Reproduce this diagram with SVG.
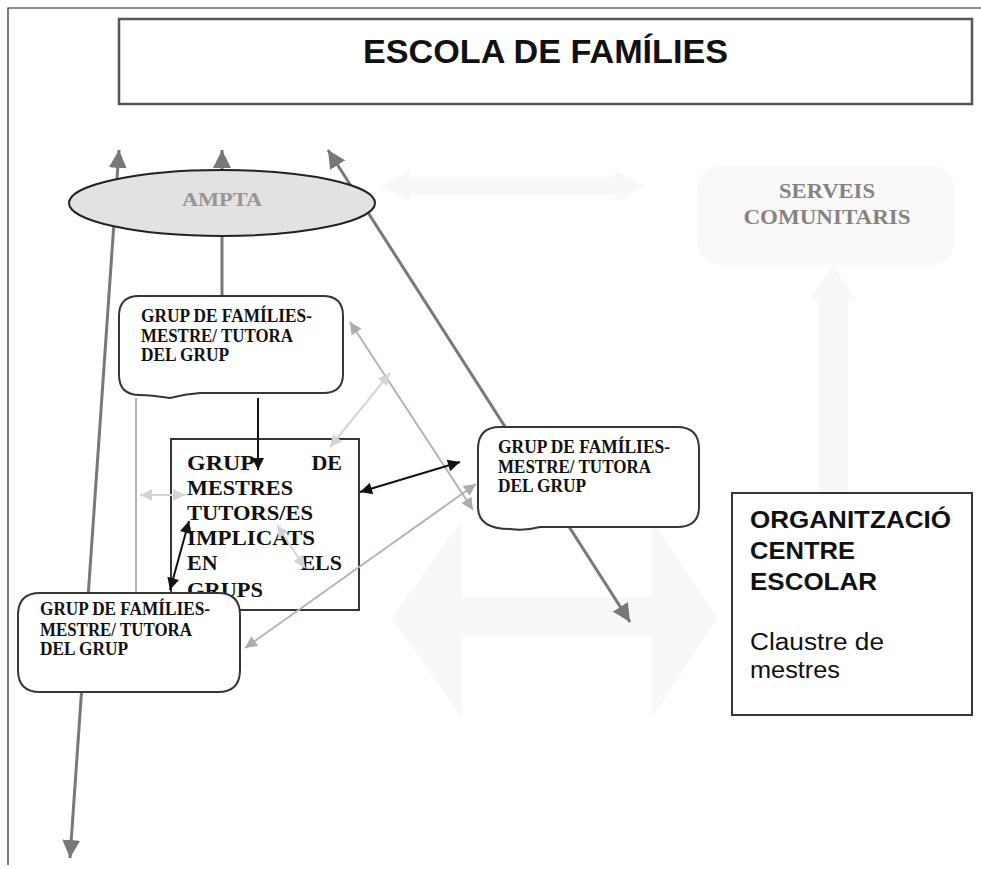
<svg xmlns="http://www.w3.org/2000/svg" width="981" height="869" viewBox="0 0 981 869">
<style>
.bg{fill:#f8f8f8;stroke:none}
.box{fill:#fff;stroke:#3a3535;stroke-width:2}
.ser{font-family:"Liberation Serif","Times New Roman",serif;font-weight:bold;fill:#111}
.sans{font-family:"Liberation Sans",Arial,sans-serif;fill:#111}
.thick{stroke:#7a7777;stroke-width:3;fill:none}
.blk{stroke:#111;stroke-width:2;fill:none}
.lg{stroke:#bab2b2;stroke-width:2;fill:none}
.vlg{stroke:#d6d6d6;stroke-width:2;fill:none}
</style>
<defs>
<marker id="mG" viewBox="0 0 10 10" refX="10" refY="5" markerUnits="userSpaceOnUse" markerWidth="18" markerHeight="18" orient="auto-start-reverse"><path d="M0,0 L10,5 L0,10 z" fill="#7a7777"/></marker>
<marker id="mB" viewBox="0 0 10 10" refX="10" refY="5" markerUnits="userSpaceOnUse" markerWidth="14" markerHeight="12" orient="auto-start-reverse"><path d="M0,0 L10,5 L0,10 z" fill="#111"/></marker>
<marker id="mL" viewBox="0 0 10 10" refX="10" refY="5" markerUnits="userSpaceOnUse" markerWidth="14" markerHeight="12" orient="auto-start-reverse"><path d="M0,0 L10,5 L0,10 z" fill="#b2aaaa"/></marker>
<marker id="mV" viewBox="0 0 10 10" refX="10" refY="5" markerUnits="userSpaceOnUse" markerWidth="14" markerHeight="12" orient="auto-start-reverse"><path d="M0,0 L10,5 L0,10 z" fill="#d4d4d4"/></marker>
</defs>
<rect width="981" height="869" fill="#fff"/>
<g id="background">
<polygon class="bg" points="380,186 410,170 410,177 615,177 615,170 645,186 615,202 615,195 410,195 410,202"/>
<polygon class="bg" points="833,265 856,300 848,300 848,492 818,492 818,300 810,300"/>
<polygon class="bg" points="392,618 462,520 462,597 652,597 652,520 717,618 652,718 652,636 462,636 462,718"/>
</g>
<g id="frame">
<path d="M8,865 V8 H981" fill="none" stroke="#222" stroke-width="1.2"/>
</g>
<g id="serveis">
<rect x="697" y="165" width="258" height="100" rx="25" fill="#f9f9f9"/>
<text class="ser" x="827" y="198" font-size="22" text-anchor="middle" textLength="96" lengthAdjust="spacingAndGlyphs" style="fill:#8a8282">SERVEIS</text>
<text class="ser" x="827" y="224" font-size="22" text-anchor="middle" textLength="167" lengthAdjust="spacingAndGlyphs" style="fill:#8a8282">COMUNITARIS</text>
</g>
<g id="title">
<rect x="119" y="19" width="853" height="85" fill="#fff" stroke="#5a5555" stroke-width="2.5"/>
<text class="sans" x="363" y="63" font-size="34" font-weight="bold" textLength="365" lengthAdjust="spacingAndGlyphs">ESCOLA DE FAMÍLIES</text>
</g>
<g id="mestres">
<rect class="box" x="171" y="439" width="188" height="171"/>
<g class="ser" font-size="22">
<text x="187" y="470" textLength="68" lengthAdjust="spacingAndGlyphs">GRUP</text>
<text x="342" y="470" text-anchor="end">DE</text>
<text x="187" y="495" textLength="106" lengthAdjust="spacingAndGlyphs">MESTRES</text>
<text x="187" y="520" textLength="126" lengthAdjust="spacingAndGlyphs">TUTORS/ES</text>
<text x="187" y="545" textLength="128" lengthAdjust="spacingAndGlyphs">IMPLICATS</text>
<text x="187" y="570">EN</text>
<text x="342" y="570" text-anchor="end">ELS</text>
<text x="187" y="597" textLength="76" lengthAdjust="spacingAndGlyphs">GRUPS</text>
</g>
</g>
<g id="connectors">
<line class="thick" x1="119" y1="150" x2="70" y2="858" marker-start="url(#mG)" marker-end="url(#mG)"/>
<line class="thick" x1="222" y1="297" x2="222" y2="150" marker-end="url(#mG)"/>
<line class="thick" x1="328" y1="150" x2="630" y2="622" marker-start="url(#mG)" marker-end="url(#mG)"/>
<line class="lg" x1="136" y1="398" x2="136" y2="594"/>
<line class="vlg" x1="140" y1="495" x2="185" y2="495" marker-start="url(#mV)" marker-end="url(#mV)"/>
<line class="lg" x1="350" y1="322" x2="473" y2="510" marker-start="url(#mL)" marker-end="url(#mL)"/>
<line class="vlg" x1="390" y1="373" x2="330" y2="447" marker-start="url(#mV)" marker-end="url(#mV)"/>
<line class="vlg" x1="277" y1="525" x2="305" y2="568" marker-start="url(#mV)" marker-end="url(#mV)"/>
<line class="lg" x1="245" y1="648" x2="476" y2="484" marker-start="url(#mL)" marker-end="url(#mL)"/>
<line class="blk" x1="258" y1="398" x2="258" y2="470" marker-end="url(#mB)"/>
<line class="blk" x1="360" y1="492" x2="460" y2="462" marker-start="url(#mB)" marker-end="url(#mB)"/>
<line class="blk" x1="189" y1="521" x2="170" y2="590" marker-start="url(#mB)" marker-end="url(#mB)"/>
</g>
<g id="ampta">
<ellipse cx="222" cy="203" rx="153" ry="33" fill="#e2e2e2" stroke="#222" stroke-width="2"/>
<text class="ser" x="222" y="206" font-size="19" text-anchor="middle" textLength="80" lengthAdjust="spacingAndGlyphs" style="fill:#9a9494">AMPTA</text>
</g>
<g id="grup1">
<path class="box" d="M139,296 H323 Q343,296 343,316 V374 Q343,393 323,393 H200 Q185,394 170,398 Q150,395 140,395 Q119,395 119,375 V316 Q119,296 139,296 Z"/>
<g class="ser" font-size="18">
<text x="141" y="322" textLength="171" lengthAdjust="spacingAndGlyphs">GRUP DE FAMÍLIES-</text>
<text x="141" y="342" textLength="152" lengthAdjust="spacingAndGlyphs">MESTRE/ TUTORA</text>
<text x="141" y="361" textLength="88" lengthAdjust="spacingAndGlyphs">DEL GRUP</text>
</g>
</g>
<g id="grup2">
<path class="box" d="M500,427 H677 Q699,427 699,449 V507 Q699,527 677,527 H540 Q525,531 510,529 Q478,529 478,507 V449 Q478,427 500,427 Z"/>
<g class="ser" font-size="18">
<text x="498" y="453" textLength="172" lengthAdjust="spacingAndGlyphs">GRUP DE FAMÍLIES-</text>
<text x="498" y="473" textLength="153" lengthAdjust="spacingAndGlyphs">MESTRE/ TUTORA</text>
<text x="498" y="492" textLength="88" lengthAdjust="spacingAndGlyphs">DEL GRUP</text>
</g>
</g>
<g id="grup3">
<path class="box" d="M40,593 H218 Q240,593 240,615 V670 Q240,692 218,692 H40 Q18,692 18,670 V615 Q18,593 40,593 Z"/>
<g class="ser" font-size="18">
<text x="40" y="615" textLength="170" lengthAdjust="spacingAndGlyphs">GRUP DE FAMÍLIES-</text>
<text x="40" y="636" textLength="152" lengthAdjust="spacingAndGlyphs">MESTRE/ TUTORA</text>
<text x="40" y="655" textLength="88" lengthAdjust="spacingAndGlyphs">DEL GRUP</text>
</g>
</g>
<g id="organitzacio">
<rect x="732" y="493" width="240" height="222" fill="#fff" stroke="#3a3535" stroke-width="2"/>
<g class="sans" font-weight="bold" font-size="23">
<text x="750" y="528" textLength="201" lengthAdjust="spacingAndGlyphs">ORGANITZACIÓ</text>
<text x="750" y="559" textLength="105" lengthAdjust="spacingAndGlyphs">CENTRE</text>
<text x="750" y="590" textLength="127" lengthAdjust="spacingAndGlyphs">ESCOLAR</text>
</g>
<g class="sans" font-size="23">
<text x="750" y="650" textLength="134" lengthAdjust="spacingAndGlyphs">Claustre de</text>
<text x="750" y="678" textLength="90" lengthAdjust="spacingAndGlyphs">mestres</text>
</g>
</g>
</svg>
